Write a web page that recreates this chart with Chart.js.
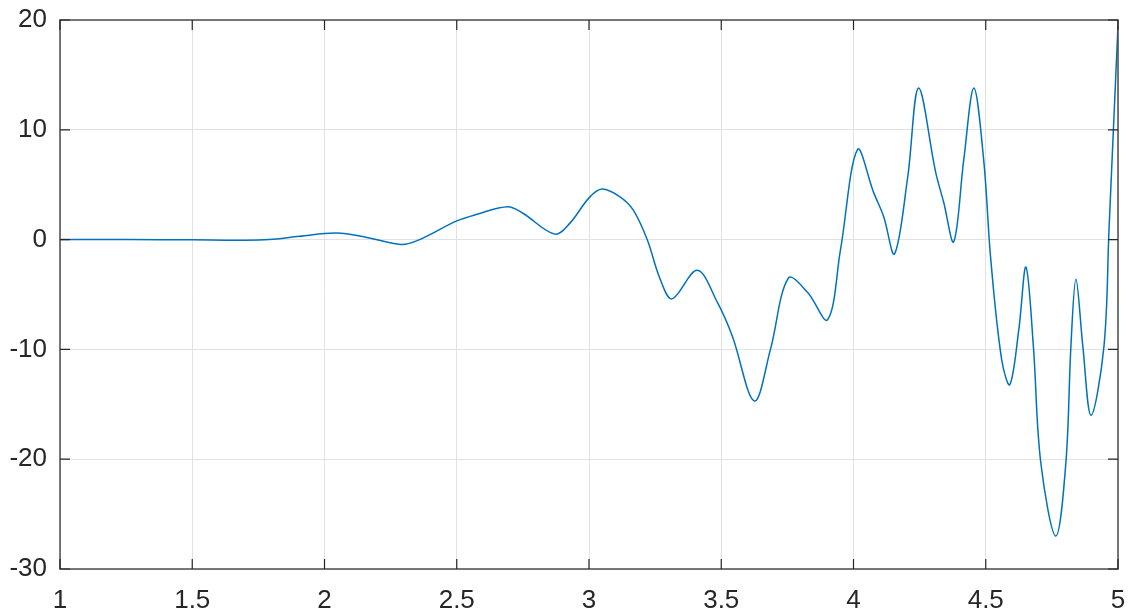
<!DOCTYPE html>
<html>
<head>
<meta charset="UTF-8">
<title>curve</title>
<script src="https://cdn.jsdelivr.net/npm/chart.js"></script>
<style>
    body { margin: 0; background: #ffffff; }
    #wrap { width: 1133px; height: 616px; }
</style>
</head>
<body>
<div id="wrap"><canvas id="plot"></canvas></div>
<script>
// values
const xs = [1.0, 1.26, 1.5, 1.68, 1.79, 1.905, 2.045, 2.16, 2.29, 2.36, 2.5, 2.576, 2.693, 2.75,
    2.871, 2.928, 3.0, 3.049, 3.117, 3.167, 3.22, 3.269, 3.314, 3.409, 3.485, 3.542,
    3.625, 3.686, 3.754, 3.826, 3.902, 3.951, 4.015, 4.076, 4.114, 4.155, 4.205, 4.246, 4.311,
    4.341, 4.379, 4.417, 4.455, 4.492, 4.519, 4.56, 4.591, 4.625, 4.652, 4.68, 4.708, 4.765,
    4.803, 4.822, 4.841, 4.867, 4.898, 4.947, 4.966, 5.0];
const ys = [0, 0, -0.02, -0.05, 0, 0.3, 0.6, 0.2, -0.45, 0, 1.7, 2.3, 3.0, 2.4,
    0.5, 1.5, 3.8, 4.6, 3.9, 2.7, 0, -3.6, -5.4, -2.8, -5.7, -8.8,
    -14.7, -10, -3.5, -4.8, -7.3, -0.9, 8.2, 4.3, 2.1, -1.3, 5.7, 13.8, 6.1,
    3.4, -0.2, 7.3, 13.8, 7.3, -1.8, -10.9, -13.2, -8.2, -2.5, -9.7, -20.3, -27.0,
    -20.3, -9.7, -3.6, -9.7, -16.0, -9.7, 0.9, 19.5];
const xTicks = [1, 1.5, 2, 2.5, 3, 3.5, 4, 4.5, 5];
const yTicks = [-30, -20, -10, 0, 10, 20];

const points = xs.map((x, i) => ({ x: x, y: ys[i] }));

// box round the plot with inward ticks
const boxPlugin = {
    id: 'box',
    afterDraw(chart) {
        const ctx = chart.ctx;
        const a = chart.chartArea;
        const sx = chart.scales.x, sy = chart.scales.y;
        ctx.save();
        ctx.strokeStyle = '#4d4d4d';
        ctx.lineWidth = 1.5;
        ctx.strokeRect(a.left, a.top, a.right - a.left, a.bottom - a.top);
        ctx.strokeStyle = '#262626';
        ctx.lineWidth = 1.2;
        ctx.beginPath();
        xTicks.forEach(v => {
            const p = sx.getPixelForValue(v);
            ctx.moveTo(p, a.bottom); ctx.lineTo(p, a.bottom - 10);
            ctx.moveTo(p, a.top); ctx.lineTo(p, a.top + 10);
        });
        yTicks.forEach(v => {
            const p = sy.getPixelForValue(v);
            ctx.moveTo(a.left, p); ctx.lineTo(a.left + 10, p);
            ctx.moveTo(a.right, p); ctx.lineTo(a.right - 10, p);
        });
        ctx.stroke();
        ctx.restore();
    }
};

const font = { family: "'Liberation Sans', Arial, sans-serif", size: 26 };

new Chart(document.getElementById('plot'), {
    type: 'line',
    data: {
        datasets: [{
            data: points,
            borderColor: '#0072BD',
            borderWidth: 1.5,
            pointRadius: 0,
            tension: 0.35,
            fill: false
        }]
    },
    options: {
        responsive: true,
        maintainAspectRatio: false,
        animation: false,
        layout: { padding: { top: 20, right: 15, left: 0, bottom: 0 } },
        plugins: { legend: { display: false }, tooltip: { enabled: false } },
        scales: {
            x: {
                type: 'linear',
                min: 1, max: 5,
                afterBuildTicks(s) { s.ticks = xTicks.map(v => ({ value: v })); },
                afterFit(s) { s.height = 47; s.paddingLeft = 0; s.paddingRight = 0; },
                grid: { color: '#e2e2e2', lineWidth: 1, drawTicks: false },
                border: { display: false },
                ticks: { color: '#262626', font: font, padding: 16, maxRotation: 0,
                    callback: v => String(v) }
            },
            y: {
                min: -30, max: 20,
                afterBuildTicks(s) { s.ticks = yTicks.map(v => ({ value: v })); },
                afterFit(s) { s.width = 60; s.paddingTop = 0; s.paddingBottom = 0; },
                grid: { color: '#e2e2e2', lineWidth: 1, drawTicks: false },
                border: { display: false },
                ticks: { color: '#262626', font: font, padding: 13,
                    callback: v => String(v) }
            }
        }
    },
    plugins: [boxPlugin]
});
</script>
</body>
</html>
